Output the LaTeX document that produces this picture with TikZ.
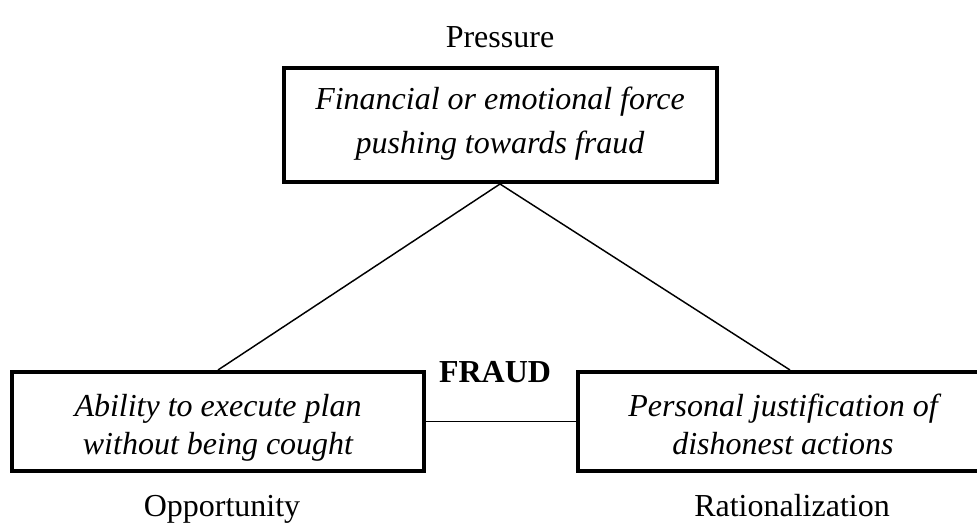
\documentclass[tikz,border=0pt]{standalone}
\usepackage{fontspec}
\setmainfont{Liberation Serif}
\usepackage{tikz}
\usetikzlibrary{positioning,calc}
\definecolor{ink}{HTML}{000000}
\tikzset{
  corner/.style={draw=ink,line width=3pt,align=center,
                 font=\fontsize{24}{29}\selectfont\itshape,inner sep=0pt,
                 minimum height=74.25pt,text height=50.25pt,text depth=0pt},
  topcorner/.style={corner,minimum width=324.75pt,minimum height=85.5pt,
                    font=\fontsize{24}{33}\selectfont\itshape,text height=43.5pt},
  caption/.style={font=\fontsize{24}{29}\selectfont,anchor=base,inner sep=0pt},
  link/.style={draw=ink,line width=1.1pt}
}
\begin{document}
\begin{tikzpicture}[x=0.75pt,y=0.75pt]
  \useasboundingbox (0,0) rectangle (977,527);
  \node[topcorner] (press) at (500,402) {Financial or emotional force\\pushing towards fraud};
  \node[corner,minimum width=309pt] (opp) at (218,105.5) {Ability to execute plan\\without being cought};
  \node[corner,minimum width=307.5pt] (rat) at (783,105.5) {Personal justification of\\dishonest actions};
  \node[caption] (presslbl) at (500,479) {Pressure};
  \node[caption] (opplbl) at (222,10) {Opportunity};
  \node[caption] (ratlbl) at (792,10) {Rationalization};
  \node[caption,font=\fontsize{24}{29}\selectfont\bfseries] (fraud) at (495,144) {FRAUD};
  \draw[link] (press.south) -- (opp.north);
  \draw[link] (press.south) -- ($(rat.north)+(7,0)$);
  \draw[link] (opp.east) -- (rat.west);
\end{tikzpicture}
\end{document}
